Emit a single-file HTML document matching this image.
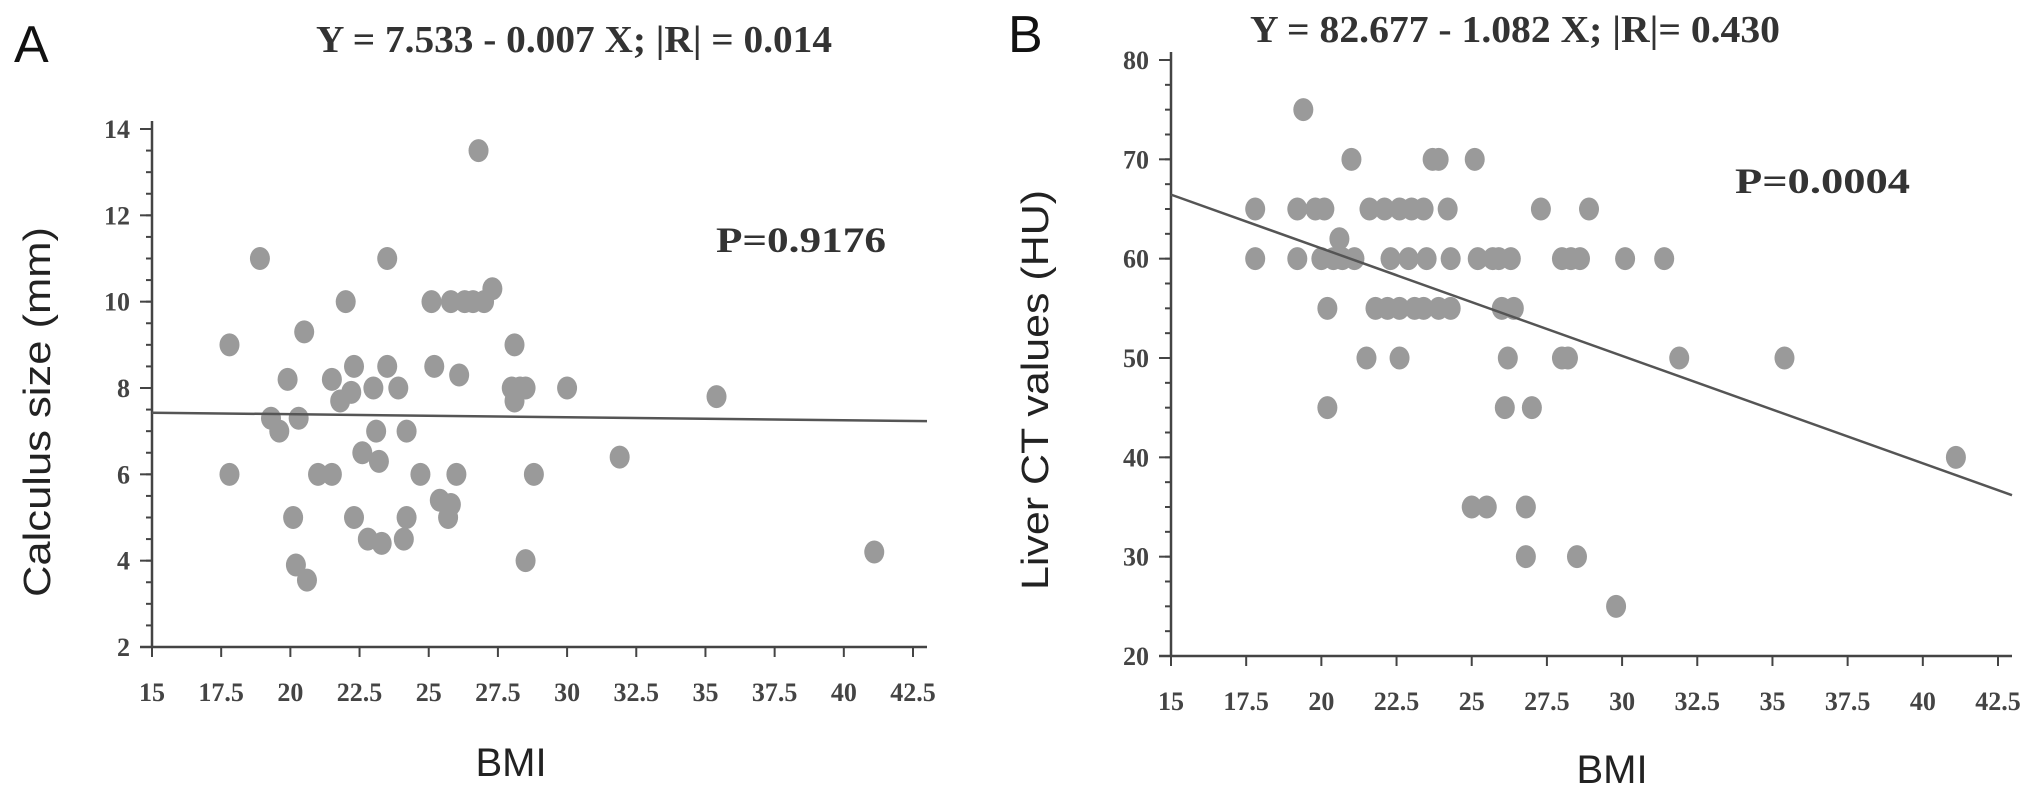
<!DOCTYPE html>
<html><head><meta charset="utf-8"><style>
html,body{margin:0;padding:0;background:#fff;}
svg{display:block;}
</style></head><body>
<svg id="chart" width="2031" height="803" xmlns="http://www.w3.org/2000/svg">
<g id="panelA"></g>
<g id="panelB"></g>
</svg>
<script>
// Panel A data
const aBmi = [17.8,17.8,18.9,19.3,19.6,19.9,20.1,20.2,20.3,20.5,20.6,21.0,21.5,21.5,21.8,22.0,22.2,22.3,22.3,22.6,22.8,23.0,23.1,23.2,23.3,23.5,23.5,23.9,24.1,24.2,24.2,24.7,25.1,25.2,25.4,25.7,25.8,25.8,26.0,26.1,26.3,26.6,26.8,27.0,27.3,28.0,28.1,28.1,28.3,28.5,28.5,28.8,30.0,31.9,35.4,41.1];
const aSize = [9.0,6.0,11.0,7.3,7.0,8.2,5.0,3.9,7.3,9.3,3.55,6.0,6.0,8.2,7.7,10.0,7.9,8.5,5.0,6.5,4.5,8.0,7.0,6.3,4.4,8.5,11.0,8.0,4.5,5.0,7.0,6.0,10.0,8.5,5.4,5.0,5.3,10.0,6.0,8.3,10.0,10.0,13.5,10.0,10.3,8.0,9.0,7.7,8.0,4.0,8.0,6.0,8.0,6.4,7.8,4.2];
const aFit = [7.533, -0.007];
const aYTicks = [2,4,6,8,10,12,14];
// Panel B data
const bBmi = [17.8,17.8,19.2,19.2,19.4,19.8,20.1,20.0,20.2,20.2,20.4,20.6,20.7,21.0,21.1,21.5,21.6,21.8,22.1,22.2,22.3,22.6,22.6,22.6,22.9,23.0,23.1,23.4,23.4,23.5,23.7,23.9,23.9,24.2,24.3,24.3,25.0,25.1,25.2,25.5,25.7,25.9,26.0,26.1,26.2,26.3,26.4,26.8,26.8,27.0,27.3,28.0,28.0,28.2,28.3,28.5,28.6,28.9,29.8,30.1,31.4,31.9,35.4,41.1];
const bCt = [65,60,65,60,75,65,65,60,55,45,60,62,60,70,60,50,65,55,65,55,60,65,55,50,60,65,55,65,55,60,70,70,55,65,60,55,35,70,60,35,60,60,55,45,50,60,55,35,30,45,65,60,50,50,60,30,60,65,25,60,60,50,50,40];
const bFit = [82.677, -1.082];
const bYTicks = [20,30,40,50,60,70,80];
const xTicks = [15,17.5,20,22.5,25,27.5,30,32.5,35,37.5,40,42.5];

const NS='http://www.w3.org/2000/svg';
function mk(parent,tag,attrs){const e=document.createElementNS(NS,tag);for(const k in attrs)e.setAttribute(k,attrs[k]);parent.appendChild(e);return e;}

function drawPanel(g,cfg){
  const sx=v=>cfg.x0+(v-15)*(cfg.x1-cfg.x0)/27.5;
  const sy=v=>cfg.yb-(v-cfg.ymin)*(cfg.yb-cfg.yt)/(cfg.ymax-cfg.ymin);
  const ax=mk(g,'g',{});
  
  
  const yl=mk(ax,'line',{x1:cfg.x0,y1:cfg.yt-8,x2:cfg.x0,y2:cfg.yb,stroke:'#444','stroke-width':2.5});
  
  
  const xl=mk(ax,'line',{x1:cfg.x0-12,y1:cfg.yb,x2:cfg.x1+14,y2:cfg.yb,stroke:'#444','stroke-width':2.5});
  
  
  // minor y ticks
  const step=(cfg.yTicks[1]-cfg.yTicks[0])/4;
  for(let v=cfg.ymin;v<=cfg.ymax+1e-9;v+=step){
    mk(ax,'line',{x1:cfg.x0-6,y1:sy(v),x2:cfg.x0,y2:sy(v),stroke:'#444','stroke-width':2});
  }
  cfg.yTicks.forEach(v=>{
    mk(ax,'line',{x1:cfg.x0-12,y1:sy(v),x2:cfg.x0,y2:sy(v),stroke:'#444','stroke-width':2});
    const t=mk(ax,'text',{x:cfg.x0-22,y:sy(v)+9,'text-anchor':'end','font-family':'Liberation Serif, serif','font-weight':'bold','font-size':26,fill:'#444'});
    t.textContent=v;
    
    
  });
  xTicks.forEach(v=>{
    mk(ax,'line',{x1:sx(v),y1:cfg.yb,x2:sx(v),y2:cfg.yb+10,stroke:'#444','stroke-width':2});
    const t=mk(ax,'text',{x:sx(v),y:cfg.yb+54,'text-anchor':'middle','font-family':'Liberation Serif, serif','font-weight':'bold','font-size':26,fill:'#444'});
    t.textContent=v;
    
    
  });
  // points
  const pts=mk(g,'g',{fill:'#9a9a9a'});
  
  
  cfg.xs.forEach((x,i)=>{
    const c=mk(pts,'ellipse',{cx:sx(x),cy:sy(cfg.ys[i]),rx:10,ry:11.5});
    
    
  });
  // fit line
  const f=cfg.fit;
  const ln=mk(g,'line',{x1:sx(15),y1:sy(f[0]+f[1]*15),x2:sx(42.5)+14,y2:sy(f[0]+f[1]*(42.5+14*27.5/(cfg.x1-cfg.x0))),stroke:'#555','stroke-width':2.5});
  
  
}

const A=document.getElementById('panelA');
drawPanel(A,{x0:152,x1:913,yt:129,yb:647,ymin:2,ymax:14,yTicks:aYTicks,xs:aBmi,ys:aSize,fit:aFit});
const B=document.getElementById('panelB');
drawPanel(B,{x0:1171,x1:1998,yt:60,yb:656,ymin:20,ymax:80,yTicks:bYTicks,xs:bBmi,ys:bCt,fit:bFit});

function txt(g,name,attrs,s){const t=mk(g,'text',attrs);t.textContent=s;return t;}
txt(A,'panel-label-a',{x:14,y:62,'font-family':'Liberation Sans, sans-serif','font-size':52,fill:'#111'},'A');
txt(A,'equation-title',{x:316,y:52,textLength:516,lengthAdjust:'spacingAndGlyphs','font-family':'Liberation Serif, serif','font-weight':'bold','font-size':38,fill:'#333'},'Y = 7.533 - 0.007 X; |R| = 0.014');
txt(A,'p-value',{x:716,y:252,textLength:170,lengthAdjust:'spacingAndGlyphs','font-family':'Liberation Serif, serif','font-weight':'bold','font-size':36,fill:'#333'},'P=0.9176');
txt(A,'y-axis-title',{x:0,y:0,transform:'translate(50,412) rotate(-90)','text-anchor':'middle',textLength:370,lengthAdjust:'spacingAndGlyphs','font-family':'Liberation Sans, sans-serif','font-size':38,fill:'#222'},'Calculus size (mm)');
txt(A,'x-axis-title',{x:511,y:776,'text-anchor':'middle','font-family':'Liberation Sans, sans-serif','font-size':40,fill:'#222'},'BMI');

txt(B,'panel-label-b',{x:1008,y:52,'font-family':'Liberation Sans, sans-serif','font-size':52,fill:'#111'},'B');
txt(B,'equation-title',{x:1250,y:42,textLength:530,lengthAdjust:'spacingAndGlyphs','font-family':'Liberation Serif, serif','font-weight':'bold','font-size':38,fill:'#333'},'Y = 82.677 - 1.082 X; |R|= 0.430');
txt(B,'p-value',{x:1735,y:193,textLength:175,lengthAdjust:'spacingAndGlyphs','font-family':'Liberation Serif, serif','font-weight':'bold','font-size':36,fill:'#333'},'P=0.0004');
txt(B,'y-axis-title',{x:0,y:0,transform:'translate(1048,390) rotate(-90)','text-anchor':'middle',textLength:400,lengthAdjust:'spacingAndGlyphs','font-family':'Liberation Sans, sans-serif','font-size':38,fill:'#222'},'Liver CT values (HU)');
txt(B,'x-axis-title',{x:1612,y:783,'text-anchor':'middle','font-family':'Liberation Sans, sans-serif','font-size':40,fill:'#222'},'BMI');
</script>
</body></html>
